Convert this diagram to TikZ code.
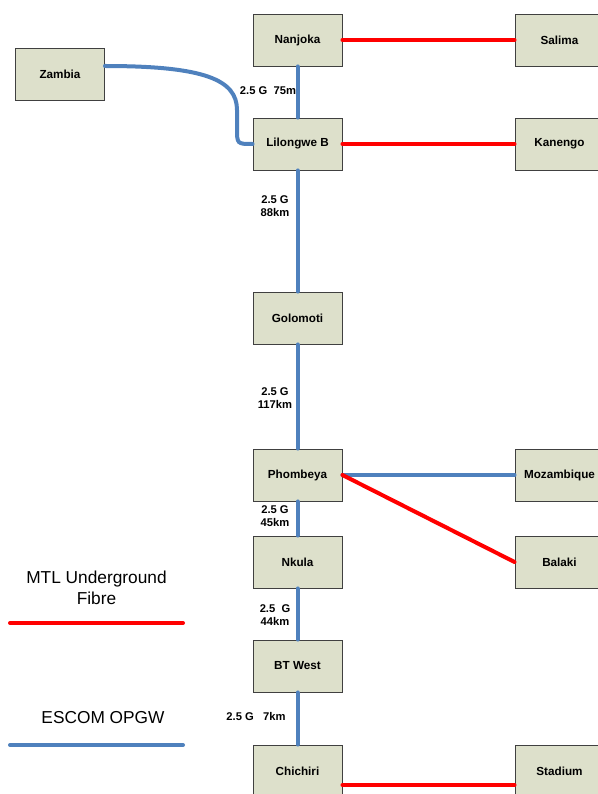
\documentclass[tikz,border=0pt]{standalone}
\usepackage{fontspec}
\setmainfont{Liberation Sans}
\definecolor{escomblue}{RGB}{79,129,189}
\definecolor{boxfill}{RGB}{221,224,203}
\definecolor{boxline}{RGB}{64,64,64}

\tikzset{
    station/.style={draw=boxline,line width=0.9pt,fill=boxfill,minimum width=89pt,minimum height=52pt,inner sep=0pt,font=\bfseries\fontsize{11.7}{13}\selectfont},
    opgw/.style={draw=escomblue,line width=4pt,line cap=round},
    mtl/.style={draw=red,line width=4pt,line cap=round},
    rate/.style={font=\bfseries\fontsize{11.2}{13.5}\selectfont,align=center,inner sep=0pt},
    legendtext/.style={font=\fontsize{17.3}{21}\selectfont,align=center,inner sep=0pt}
}

\begin{document}
\begin{tikzpicture}[x=1pt,y=-1pt]
    \useasboundingbox (0,0) rectangle (597,794);
    % link rates
    \node [rate] (r75)  at (268,91)  {2.5 G\ \ 75m};
    \node [rate] (r88)  at (275,206) {2.5 G\\88km};
    \node [rate] (r117) at (275,398) {2.5 G\\117km};
    \node [rate] (r45)  at (275,516) {2.5 G\\45km};
    \node [rate] (r44)  at (275,615) {2.5\ \ G\\44km};
    \node [rate] (r7)   at (256,716) {2.5 G\ \ \ 7km};
    % stations
    \node [station] (zambia)     at (60,74)     {Zambia};
    \node [station] (nanjoka)    at (297.5,40)  {Nanjoka};
    \node [station] (salima)     at (559.5,40)  {Salima};
    \node [station] (lilongwe)   at (297.5,144) {Lilongwe B};
    \node [station] (kanengo)    at (559.5,144) {Kanengo};
    \node [station] (golomoti)   at (297.5,318) {Golomoti};
    \node [station] (phombeya)   at (297.5,475) {Phombeya};
    \node [station] (mozambique) at (559.5,475) {Mozambique};
    \node [station] (nkula)      at (297.5,562) {Nkula};
    \node [station] (balaki)     at (559.5,562) {Balaki};
    \node [station] (btwest)     at (297.5,666) {BT West};
    \node [station] (chichiri)   at (297.5,771) {Chichiri};
    \node [station] (stadium)    at (559.5,771) {Stadium};
    % ESCOM OPGW
    \foreach \a/\b in {nanjoka/lilongwe,lilongwe/golomoti,golomoti/phombeya,phombeya/nkula,nkula/btwest,btwest/chichiri}{
        \draw [opgw] (\a) -- (\b);
    }
    \draw [opgw] (phombeya.east) -- (mozambique.west);
    \draw [opgw] ([yshift=8pt]zambia.east) .. controls (205,66) and (237,80) .. (237,110)
        -- (237,128) .. controls (237,144) .. (lilongwe.west);
    % MTL underground fibre
    \draw [mtl] (nanjoka) -- (salima);
    \draw [mtl] (lilongwe) -- (kanengo);
    \draw [mtl] (phombeya.east) -- (balaki.west);
    \draw [mtl] ([yshift=-14pt]chichiri.east) -- ([yshift=-14pt]stadium.west);
    % legend
    \node [legendtext] (mtltext) at (96.5,587.5) {MTL Underground\\Fibre};
    \coordinate (mtla) at (10,623);
    \coordinate (mtlb) at (183,623);
    \draw [mtl] (mtla) -- (mtlb);
    \node [legendtext] (opgwtext) at (103,718) {ESCOM OPGW};
    \coordinate (opgwa) at (10,745);
    \coordinate (opgwb) at (183,745);
    \draw [opgw] (opgwa) -- (opgwb);
\end{tikzpicture}
\end{document}
